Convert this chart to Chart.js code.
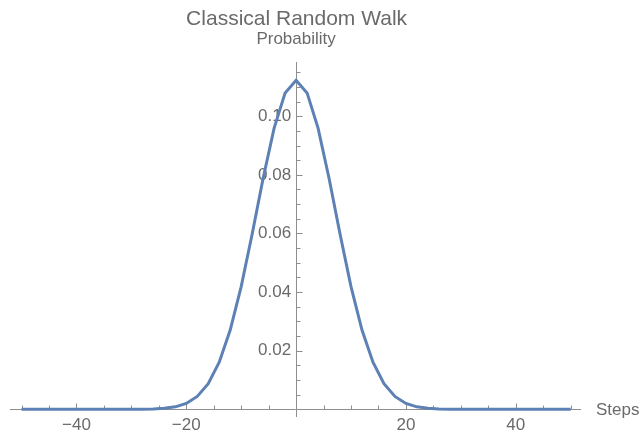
<!DOCTYPE html>
<html><head><meta charset="utf-8">
<script src="https://cdn.jsdelivr.net/npm/chart.js@4/dist/chart.umd.min.js"></script>
<style>html,body{margin:0;padding:0;background:#fff;overflow:hidden}</style>
</head><body>
<canvas id="c" width="642" height="436"></canvas>
<script>
const chartTitle = "Classical Random Walk";
const yAxisLabel = "Probability";
const xAxisLabel = "Steps";
const steps = [-50,-48,-46,-44,-42,-40,-38,-36,-34,-32,-30,-28,-26,-24,-22,-20,-18,-16,-14,-12,-10,-8,-6,-4,-2,0,2,4,6,8,10,12,14,16,18,20,22,24,26,28,30,32,34,36,38,40,42,44,46,48,50];
const probability = [0,0,0,0,0,0,0,0,0.0000005,0.0000022,0.0000091,0.0000332,0.000108,0.000315,0.000833,0.002,0.004376,0.008751,0.016044,0.027011,0.041862,0.059803,0.078818,0.095956,0.10795,0.112275,0.10795,0.095956,0.078818,0.059803,0.041862,0.027011,0.016044,0.008751,0.004376,0.002,0.000833,0.000315,0.000108,0.0000332,0.0000091,0.0000022,0.0000005,0,0,0,0,0,0,0,0];
const xMajorTicks = [-40,-20,20,40];
const xMinorTicks = [-50,-45,-35,-30,-25,-15,-10,-5,5,10,15,25,30,35,45,50];
const yMajorTicks = [0.02,0.04,0.06,0.08,0.10];
const yMinorTicks = [0.005,0.01,0.015,0.025,0.03,0.035,0.045,0.05,0.055,0.065,0.07,0.075,0.085,0.09,0.095,0.105,0.11,0.115];

const AXIS = '#8e8e8e';
const TEXT = '#6a6a6a';
const FONT = '"Liberation Sans", Arial, sans-serif';

const tickMarks = {
  id: 'tickMarks',
  beforeDraw(chart) {
    const items = chart.scales.y.getLabelItems(chart.chartArea);
    if (!items._shifted) {
      items.forEach(it => { it.options.translation[0] -= 5; });
      items._shifted = true;
    }
  },
  beforeDatasetsDraw(chart) {
    const {ctx, scales: {x, y}} = chart;
    const y0 = Math.round(y.getPixelForValue(0)) + 0.5;
    const x0 = Math.round(x.getPixelForValue(0)) + 0.5;
    ctx.save();
    ctx.strokeStyle = AXIS;
    ctx.lineWidth = 1;
    ctx.beginPath();
    xMajorTicks.forEach(v => { const p = Math.round(x.getPixelForValue(v)) + 0.5; ctx.moveTo(p, y0); ctx.lineTo(p, y0 - 6); });
    xMinorTicks.forEach(v => { const p = Math.round(x.getPixelForValue(v)) + 0.5; ctx.moveTo(p, y0); ctx.lineTo(p, y0 - 4); });
    yMajorTicks.forEach(v => { const p = Math.round(y.getPixelForValue(v)) + 0.5; ctx.moveTo(x0, p); ctx.lineTo(x0 + 6, p); });
    yMinorTicks.forEach(v => { const p = Math.round(y.getPixelForValue(v)) + 0.5; ctx.moveTo(x0, p); ctx.lineTo(x0 + 4, p); });
    ctx.stroke();
    ctx.restore();
  },
  afterDraw(chart) {
    const {ctx, scales: {x, y}} = chart;
    const x0 = x.getPixelForValue(0);
    const y0 = y.getPixelForValue(0);
    ctx.save();
    ctx.fillStyle = TEXT;
    ctx.textBaseline = 'alphabetic';
    ctx.textAlign = 'center';
    ctx.font = '21px ' + FONT;
    ctx.fillText(chartTitle, x0 + 0.5, 25);
    ctx.font = '17px ' + FONT;
    ctx.fillText(yAxisLabel, x0, 44);
    ctx.textAlign = 'left';
    ctx.fillText(xAxisLabel, x.right + 16, y0 + 6);
    ctx.restore();
  }
};

const fmtX = v => v < 0 ? '\u2212' + Math.abs(v) : String(v);

new Chart(document.getElementById('c'), {
  type: 'line',
  data: {
    datasets: [{
      data: steps.map((s, i) => ({x: s, y: probability[i]})),
      borderColor: '#5e81b5',
      borderWidth: 3,
      pointRadius: 0,
      tension: 0,
      fill: false
    }]
  },
  options: {
    responsive: false,
    animation: false,
    devicePixelRatio: 1,
    layout: {padding: {left: 10, right: 62, top: 62, bottom: 20}},
    plugins: {legend: {display: false}, tooltip: {enabled: false}, title: {display: false}},
    scales: {
      x: {
        type: 'linear',
        position: {y: 0},
        min: -52.1, max: 51.7,
        afterBuildTicks: s => { s.ticks = xMajorTicks.map(v => ({value: v})); },
        grid: {display: true, drawOnChartArea: false, drawTicks: false},
        border: {display: true, color: AXIS, width: 1},
        ticks: {autoSkip: false, maxRotation: 0, padding: 6, color: TEXT, font: {family: FONT, size: 17}, callback: v => fmtX(v)}
      },
      y: {
        type: 'linear',
        position: {x: 0},
        min: -0.0023, max: 0.1185,
        afterBuildTicks: s => { s.ticks = yMajorTicks.map(v => ({value: v})); },
        grid: {display: true, drawOnChartArea: false, drawTicks: false},
        border: {display: true, color: AXIS, width: 1},
        ticks: {autoSkip: false, padding: 5, color: TEXT, font: {family: FONT, size: 17}, callback: v => v.toFixed(2)}
      }
    }
  },
  plugins: [tickMarks]
});
</script>
</body></html>
